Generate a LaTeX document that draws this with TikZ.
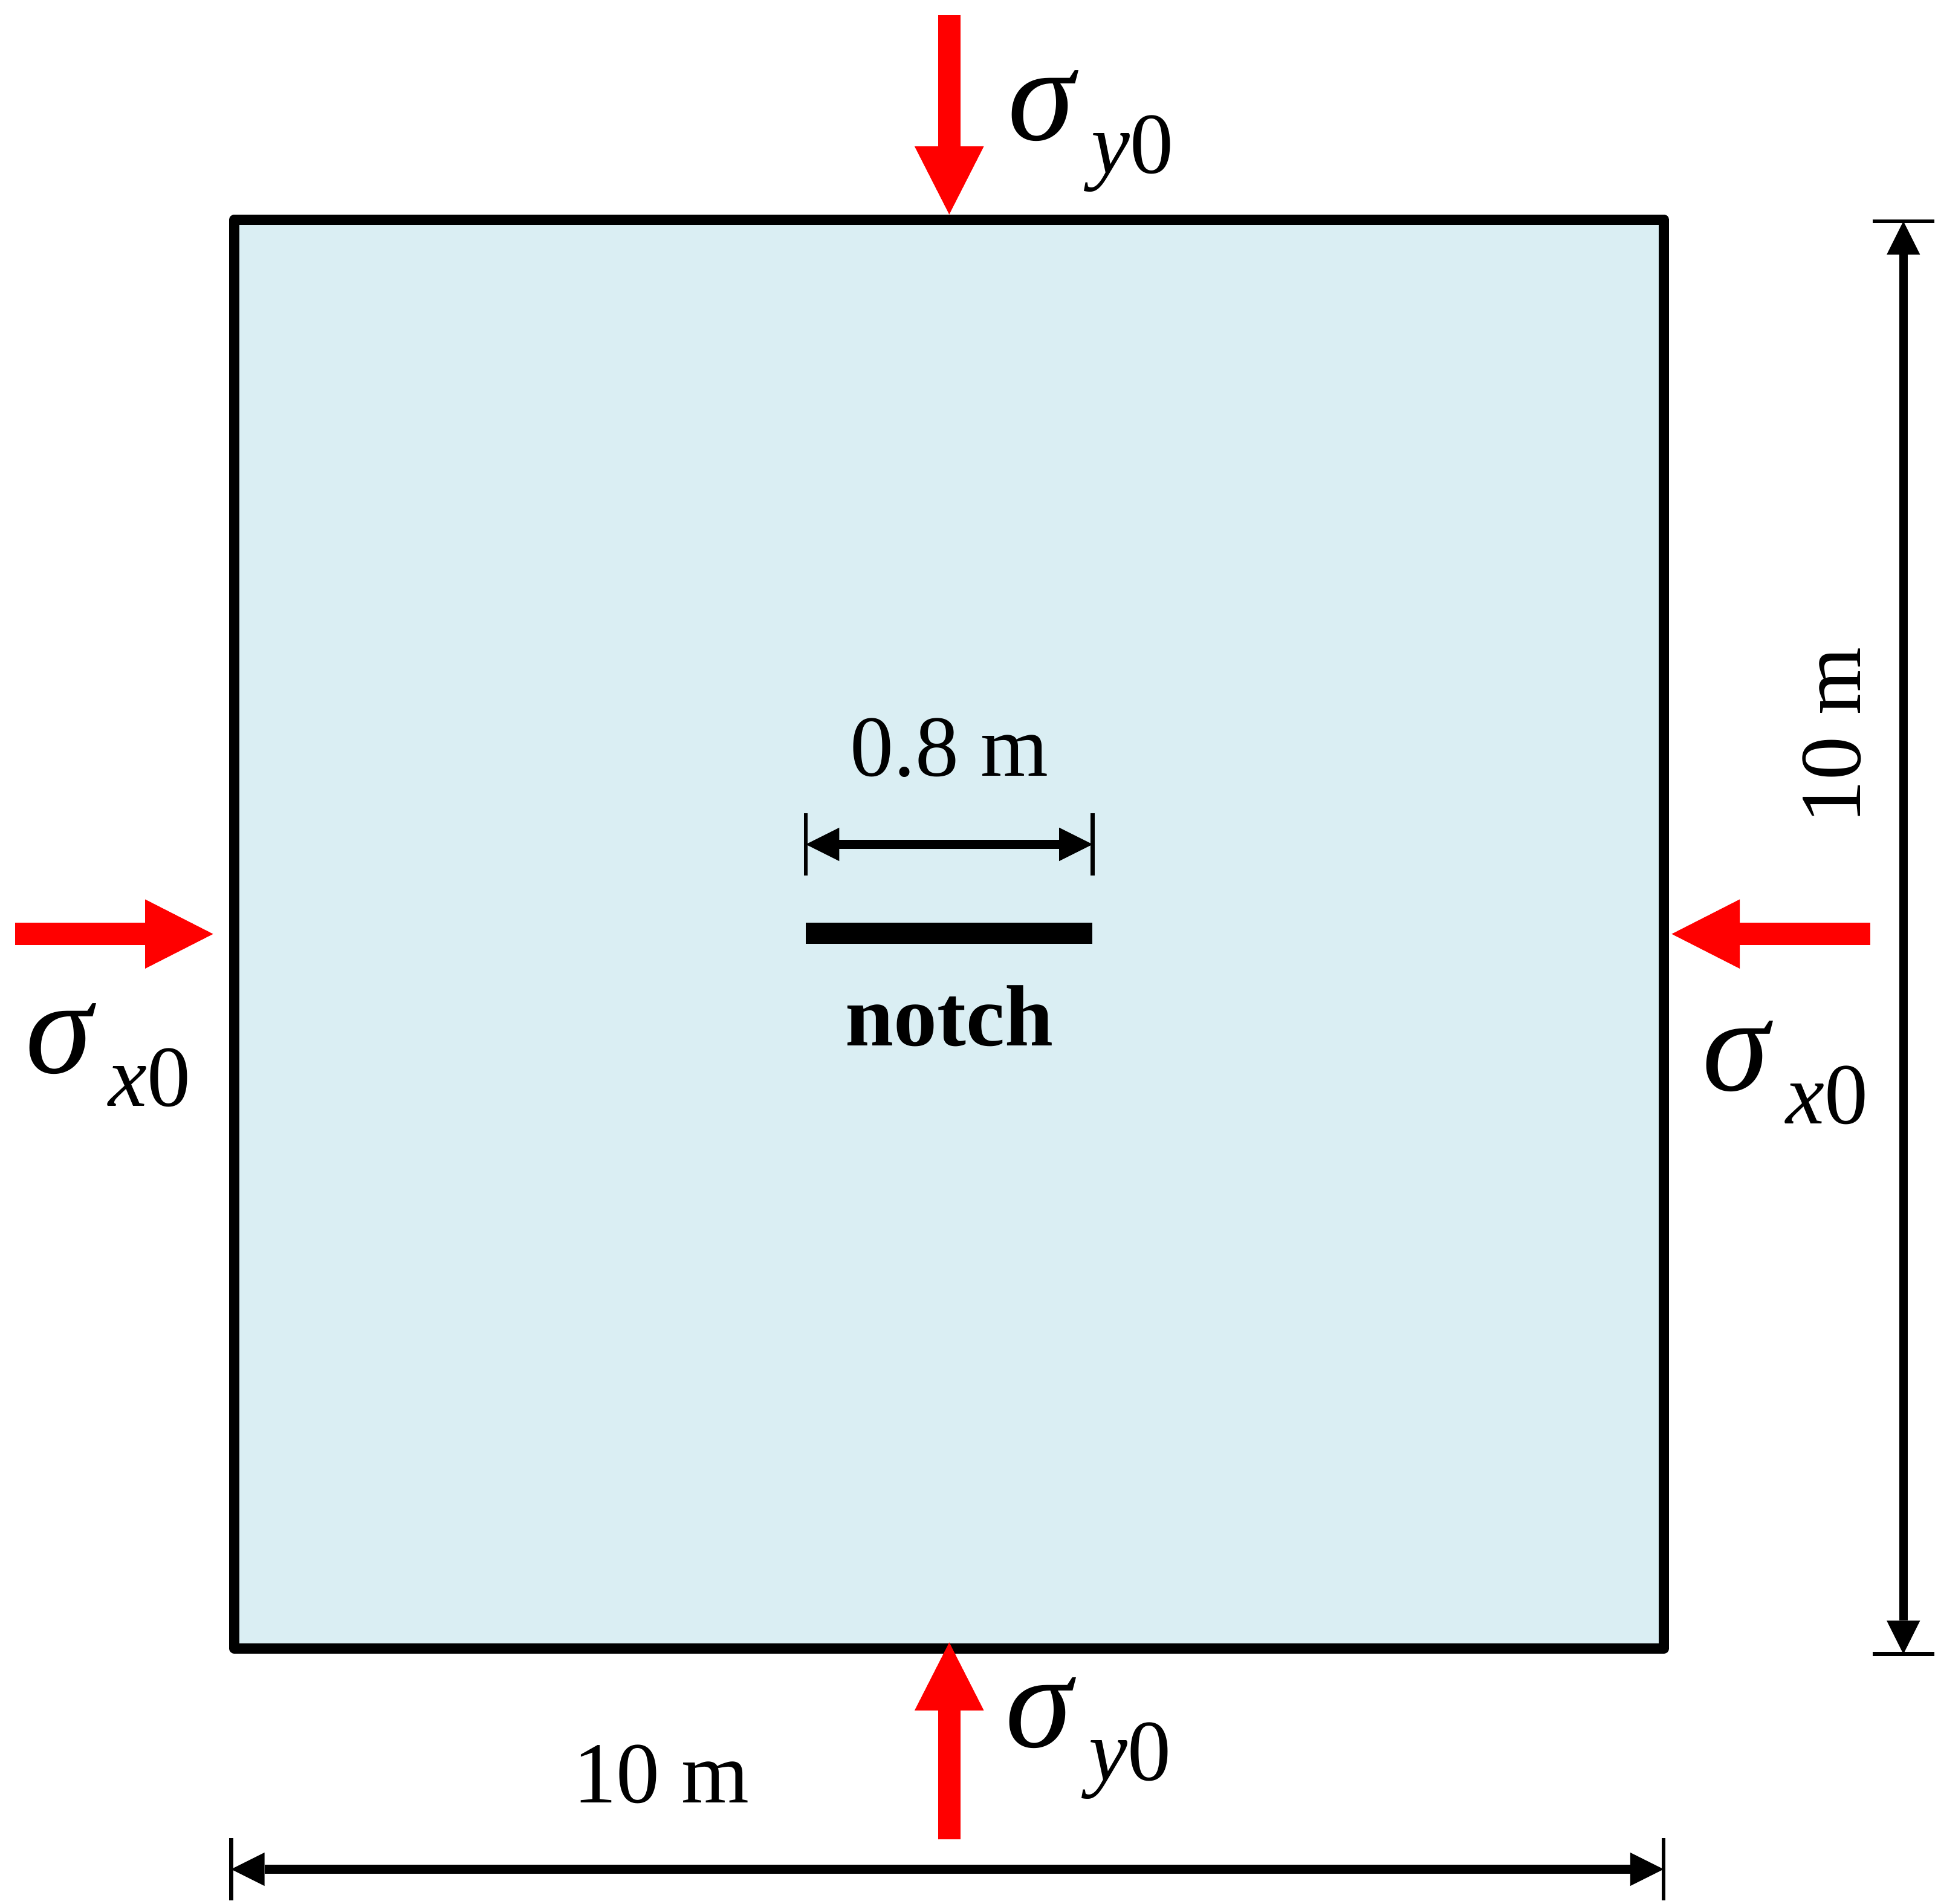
\documentclass[tikz,border=0pt]{standalone}
\usepackage{fontspec}
\setmainfont{Liberation Serif}
\usetikzlibrary{arrows.meta}

\definecolor{plateblue}{RGB}{218,238,243}
\definecolor{loadred}{RGB}{255,0,0}

\newcommand{\stresslabel}[1]{{\fontsize{31}{31}\selectfont\textit{σ}}\kern0.1cm\raisebox{-0.27cm}{\fontsize{20}{20}\selectfont\textit{#1}0}}

\begin{document}
\begin{tikzpicture}[x=0.01cm, y=-0.01cm,
	load/.style={draw=loadred, line width=0.18cm, -{Triangle[length=0.55cm,width=0.56cm,line width=0pt]}},
	dim/.style={line width=2pt, {Triangle[length=0.27cm,width=0.27cm,line width=0pt]}-{Triangle[length=0.27cm,width=0.27cm,line width=0pt]}},
	tick/.style={line width=0.9pt},
	lbl/.style={inner sep=0pt, font=\fontsize{20}{20}\selectfont}]
	
	\useasboundingbox (0,0) rectangle (1568,1540);
	
	\node[draw=black, line width=2.4pt, line join=round, fill=plateblue, minimum width=11.56cm, minimum height=11.55cm, inner sep=0pt] (plate) at (768,755.5) {};
	
	% loads
	\coordinate (ytop) at (768,12);
	\coordinate (ybot) at (768,1488);
	\coordinate (xleft) at (12,755.5);
	\coordinate (xright) at (1513,755.5);
	
	\draw[load] (ytop) -- (plate.north);
	\draw[load] (ybot) -- ([yshift=0.09cm]plate.south);
	\draw[load, shorten >=0.13cm] (xleft) -- (plate.west);
	\draw[load, shorten >=0.02cm] (xright) -- (plate.east);
	
	\node[anchor=base west, inner sep=0pt] (sytop) at (815,113) {\stresslabel{y}};
	\node[anchor=base west, inner sep=0pt] (sybot) at (813,1413) {\stresslabel{y}};
	\node[anchor=base west, inner sep=0pt] (sxleft) at (20,868) {\stresslabel{x}};
	\node[anchor=base west, inner sep=0pt] (sxright) at (1377,882) {\stresslabel{x}};
	
	% notch
	\coordinate (n1) at (652,755);
	\coordinate (n2) at (884,755);
	\draw[line width=0.17cm] (n1) -- (n2);
	\node[lbl, font=\fontsize{20}{20}\selectfont\bfseries] (notch) at (768,822) {notch};
	
	\coordinate (w1) at (652,683);
	\coordinate (w2) at (884,683);
	\draw[tick] ([yshift=0.25cm]w1) -- ([yshift=-0.25cm]w1);
	\draw[tick] ([yshift=0.25cm]w2) -- ([yshift=-0.25cm]w2);
	\draw[dim] (w1) -- (w2);
	\node[lbl] (wlabel) at (768,605) {0.8 m};
	
	% dimensions
	\coordinate (b1) at (187,1512);
	\coordinate (b2) at (1346,1512);
	\draw[tick] ([yshift=0.25cm]b1) -- ([yshift=-0.25cm]b1);
	\draw[tick] ([yshift=0.25cm]b2) -- ([yshift=-0.25cm]b2);
	\draw[dim] (b1) -- (b2);
	\node[lbl] (blabel) at (535,1435) {10 m};
	
	\coordinate (r1) at (1540,179);
	\coordinate (r2) at (1540,1338);
	\draw[tick] ([xshift=-0.25cm]r1) -- ([xshift=0.25cm]r1);
	\draw[tick] ([xshift=-0.25cm]r2) -- ([xshift=0.25cm]r2);
	\draw[dim] (r1) -- (r2);
	\node[lbl, rotate=90] (rlabel) at (1482,595) {10 m};
	
\end{tikzpicture}
\end{document}
